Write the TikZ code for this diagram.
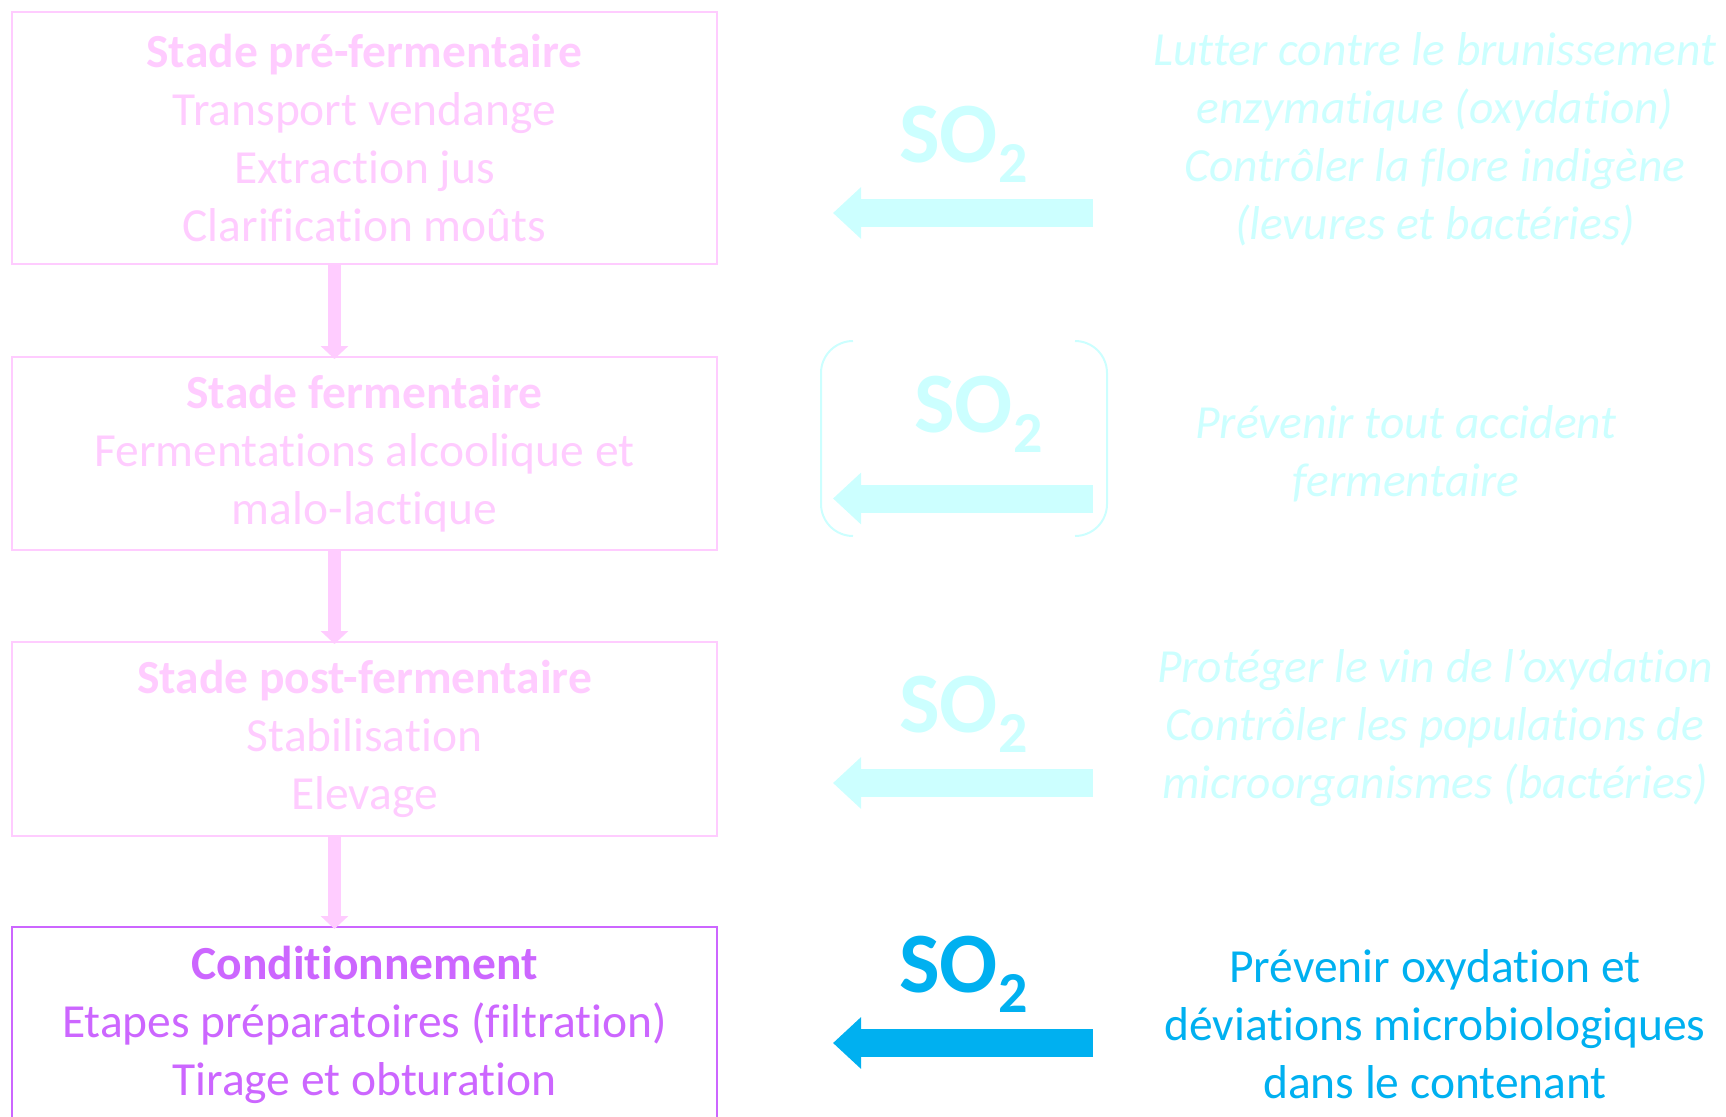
\documentclass[tikz,border=0pt]{standalone}
\usepackage{fontspec}
\setmainfont{Carlito}[Ligatures=NoCommon]
\usepackage{tikz}
\usetikzlibrary{positioning,arrows.meta}
\definecolor{palepink}{RGB}{255,204,255}
\definecolor{stagepurple}{RGB}{204,102,255}
\definecolor{palecyan}{RGB}{204,255,255}
\definecolor{sotwoblue}{RGB}{0,176,240}

\newcommand{\sotwo}{SO\raisebox{-20pt}{\fontsize{58}{58}\selectfont 2}}

\begin{document}
\begin{tikzpicture}[x=1pt, y=-1pt,
    stage/.style={draw, line width=2pt, minimum width=705pt, align=center, inner sep=0pt, font=\fontsize{47.5}{58}\selectfont},
    role/.style={align=center, font=\fontsize{47.5}{58}\selectfont\itshape, palecyan},
    sotwolabel/.style={anchor=base west, inner sep=0pt, font=\fontsize{86}{86}\selectfont\bfseries},
    downarrow/.style={palepink, line width=13pt, -{Triangle[width=27pt,length=13pt]}},
    sotwoarrow/.style={line width=28pt, -{Triangle[width=50pt,length=28pt]}}]

\useasboundingbox (0,0) rectangle (1726,1116);

% Left column: stages of wine making
\node[stage, palepink, minimum height=252pt, anchor=north west] (b1) at (11,11)
    {\textbf{Stade pré-fermentaire}\\Transport vendange\\Extraction jus\\Clarification moûts};
\node[stage, palepink, minimum height=193pt, below=91pt of b1] (b2)
    {\textbf{Stade fermentaire}\\Fermentations alcoolique et\\malo-lactique};
\node[stage, palepink, minimum height=194pt, below=90pt of b2] (b3)
    {\textbf{Stade post-fermentaire}\\Stabilisation\\Elevage};
\node[stage, stagepurple, minimum height=195pt, below=89pt of b3] (b4)
    {\textbf{Conditionnement}\\Etapes préparatoires (filtration)\\Tirage et obturation};

\draw[downarrow] ([xshift=-30pt]b1.south) -- ([xshift=-30pt,yshift=-3pt]b2.north);
\draw[downarrow] ([xshift=-30pt]b2.south) -- ([xshift=-30pt,yshift=-3pt]b3.north);
\draw[downarrow] ([xshift=-30pt]b3.south) -- ([xshift=-30pt,yshift=-3pt]b4.north);

% Middle column: SO2 additions
\node[sotwolabel, palecyan] (so1) at (899,162) {\sotwo};
\node[sotwolabel, palecyan] (so2) at (914,432) {\sotwo};
\node[sotwolabel, palecyan] (so3) at (899,732) {\sotwo};
\node[sotwolabel, sotwoblue] (so4) at (899,992) {\sotwo};

\coordinate (t1) at (1093,213);   \coordinate (h1) at (833,213);
\coordinate (t2) at (1093,498.5); \coordinate (h2) at (833,498.5);
\coordinate (t3) at (1093,783);   \coordinate (h3) at (833,783);
\coordinate (t4) at (1093,1043);  \coordinate (h4) at (833,1043);
\draw[sotwoarrow, palecyan] (t1) -- (h1);
\draw[sotwoarrow, palecyan] (t2) -- (h2);
\draw[sotwoarrow, palecyan] (t3) -- (h3);
\draw[sotwoarrow, sotwoblue] (t4) -- (h4);

% brackets round the fermentation step
\draw[palecyan, line width=2pt, rounded corners=32pt] (853,341) -- (821,341) -- (821,536) -- (853,536);
\draw[palecyan, line width=2pt, rounded corners=32pt] (1075,341) -- (1107,341) -- (1107,536) -- (1075,536);

% Right column: roles of SO2
\node[role] (r1) at (1435,139)
    {Lutter contre le brunissement\\enzymatique (oxydation)\\Contrôler la flore indigène\\(levures et bactéries)};
\node[role] (r2) at (1406,454) {Prévenir tout accident\\fermentaire};
\node[role] (r3) at (1435,728)
    {Protéger le vin de l’oxydation\\Contrôler les populations de\\microorganismes (bactéries)};
\node[role, font=\fontsize{47.5}{58}\selectfont, sotwoblue] (r4) at (1435,1024.5)
    {Prévenir oxydation et\\déviations microbiologiques\\dans le contenant};

\end{tikzpicture}
\end{document}
